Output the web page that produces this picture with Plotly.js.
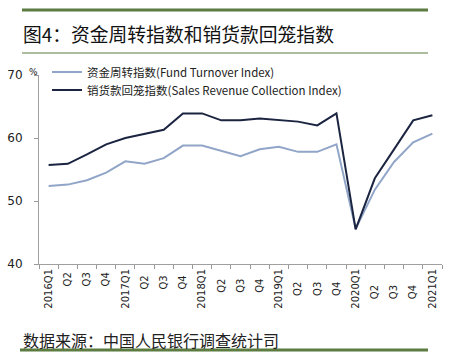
<!DOCTYPE html>
<html><head><meta charset="utf-8">
<script src="https://cdn.plot.ly/plotly-3.0.1.min.js"></script>
<style>html,body{margin:0;padding:0;background:#fff;}#c{width:452px;height:354px;}</style>
</head><body><div id="c"></div>
<script>
const categories = ["2016Q1","Q2 ","Q3 ","Q4 ","2017Q1","Q2  ","Q3  ","Q4  ","2018Q1","Q2   ","Q3   ","Q4   ","2019Q1","Q2    ","Q3    ","Q4    ","2020Q1","Q2     ","Q3     ","Q4     ","2021Q1"];
const fundTurnover = [52.4,52.6,53.3,54.5,56.3,55.9,56.8,58.8,58.8,57.9,57.1,58.2,58.6,57.8,57.8,59.0,45.6,51.8,56.2,59.3,60.7];
const salesRevenue = [55.7,55.9,57.4,59.0,60.0,60.6,61.3,63.9,63.9,62.8,62.8,63.1,62.9,62.6,62.0,63.9,45.5,53.6,58.2,62.8,63.6];
const seriesNames = ["资金周转指数(Fund Turnover Index)","销货款回笼指数(Sales Revenue Collection Index)"];
const yTicks = [40,50,60,70];

const W=452,H=354,L=39,R=10,T=75,B=90;
const pw=W-L-R, ph=H-T-B;
const px = x => (x-L)/pw;
const py = y => (H-B-y)/ph;
const green = "#5b7b40";
const legFont = {family:"Noto Sans CJK SC", size:11.5, color:"#222"};

const data = [
  {x:categories, y:fundTurnover, name:seriesNames[0], type:"scatter", mode:"lines", legend:"legend",
   line:{color:"#91a5c8", width:2}},
  {x:categories, y:salesRevenue, name:seriesNames[1], type:"scatter", mode:"lines", legend:"legend2",
   line:{color:"#1b2440", width:2}}
];
const layout = {
  width:W, height:H, margin:{l:L,r:R,t:T,b:B},
  paper_bgcolor:"#fff", plot_bgcolor:"#fff",
  showlegend:true,
  legend:{x:px(47), y:py(72), xanchor:"left", yanchor:"middle", bgcolor:"rgba(0,0,0,0)",
    font:legFont, itemwidth:30},
  legend2:{x:px(47), y:py(90), xanchor:"left", yanchor:"middle", bgcolor:"rgba(0,0,0,0)",
    font:legFont, itemwidth:30},
  xaxis:{type:"category", tickangle:-90, tickson:"boundaries", ticks:"outside", ticklen:4,
    tickcolor:"#999", showline:true, linecolor:"#a0a0a0", linewidth:1, showgrid:false, zeroline:false,
    tickfont:{family:"DejaVu Sans", size:10, color:"#222"}, range:[-0.5,20.5], fixedrange:true},
  yaxis:{range:[40,70], tickvals:yTicks, ticktext:yTicks.map(String), ticks:"outside", ticklen:4,
    tickcolor:"#999", showline:true, linecolor:"#a0a0a0", linewidth:1, showgrid:false, zeroline:false,
    ticklabelstandoff:9, tickfont:{family:"DejaVu Sans", size:12, color:"#222"}},
  shapes:[
    {type:"line", xref:"paper", yref:"paper", x0:px(22), x1:px(428), y0:py(10), y1:py(10), line:{color:green,width:3}},
    {type:"line", xref:"paper", yref:"paper", x0:px(22), x1:px(428), y0:py(53), y1:py(53), line:{color:green,width:1}},
    {type:"line", xref:"paper", yref:"paper", x0:px(20), x1:px(428), y0:py(350), y1:py(350), line:{color:green,width:3}}
  ],
  annotations:[
    {text:"图4：资金周转指数和销货款回笼指数", xref:"paper", yref:"paper", x:px(21), y:py(34),
     xanchor:"left", yanchor:"middle", showarrow:false, font:{family:"Noto Sans CJK SC", size:18.8, color:"#111"}},
    {text:"数据来源：中国人民银行调查统计司", xref:"paper", yref:"paper", x:px(21), y:py(340),
     xanchor:"left", yanchor:"middle", showarrow:false, font:{family:"Noto Sans CJK SC", size:16, color:"#222"}},
    {text:"%", xref:"paper", yref:"paper", x:px(33), y:py(72), xanchor:"center", yanchor:"middle",
     showarrow:false, font:{family:"DejaVu Sans", size:9, color:"#222"}}
  ]
};
Plotly.newPlot("c", data, layout, {displayModeBar:false, staticPlot:true});
</script></body></html>
